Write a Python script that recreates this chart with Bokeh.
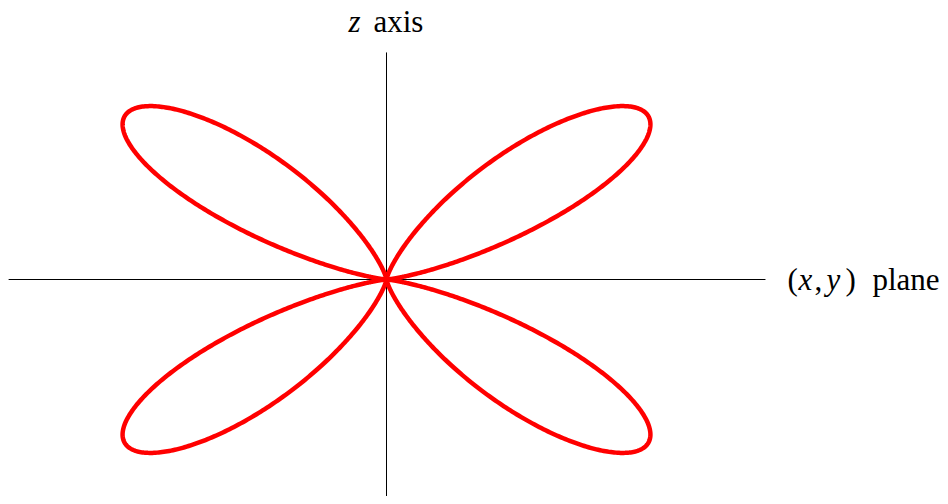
import numpy as np
from bokeh.plotting import figure
from bokeh.models import Label, Range1d
from bokeh.embed import file_html
from bokeh.resources import INLINE

# Curve definition: four-lobed polar curve r = sin(2*theta)**4
petal_factor = 2
petal_power = 4
n_samples = 2001

# Axis extents (data units)
x_axis_extent = [-1.041, 1.044]
z_axis_extent = [-0.96, 0.952]

# Labels
z_label_math = "z"
z_label_text = "axis"
plane_label_parts = [("(", "normal"), ("x", "italic"), (",", "normal"),
                     ("y", "italic"), (")", "normal"), ("plane", "normal")]
plane_label_offsets = [0, 11, 27, 39, 58, 85]

theta = np.linspace(0, 2 * np.pi, n_samples)
r = np.abs(np.sin(petal_factor * theta)) ** petal_power
xs = r * np.cos(theta)
ys = r * np.sin(theta)

W, H = 940, 496
ox, oy = 386, 279
sx, sy = 363.0, 238.5

p = figure(width=W, height=H, output_backend="svg", toolbar_location=None,
           x_range=Range1d(-ox / sx, (W - ox) / sx),
           y_range=Range1d(-(H - oy) / sy, oy / sy),
           min_border=0, outline_line_color=None)
p.axis.visible = False
p.grid.visible = False
p.background_fill_color = "white"
p.border_fill_color = "white"

p.line(x_axis_extent, [0, 0], line_color="black", line_width=1)
p.line([0, 0], z_axis_extent, line_color="black", line_width=1)

p.line(xs, ys, line_color="#ff0000", line_width=4.5, line_join="round")

font = "Liberation Serif"
fs = "31px"
zy = (oy - 21) / sy
p.add_layout(Label(x=0, y=zy, x_offset=-38, text=z_label_math, text_font=font,
                   text_font_style="italic", text_font_size=fs, text_color="black",
                   text_baseline="alphabetic", text_align="left"))
p.add_layout(Label(x=0, y=zy, x_offset=-13, text=z_label_text, text_font=font,
                   text_font_size=fs, text_color="black",
                   text_baseline="alphabetic", text_align="left"))

py = (oy - 279) / sy
px0 = (787 - ox) / sx
for (txt, style), off in zip(plane_label_parts, plane_label_offsets):
    p.add_layout(Label(x=px0, y=py, x_offset=off, text=txt, text_font=font,
                       text_font_style=style, text_font_size=fs, text_color="black",
                       text_baseline="alphabetic", text_align="left"))

open("out.html", "w").write(file_html(p, INLINE))
